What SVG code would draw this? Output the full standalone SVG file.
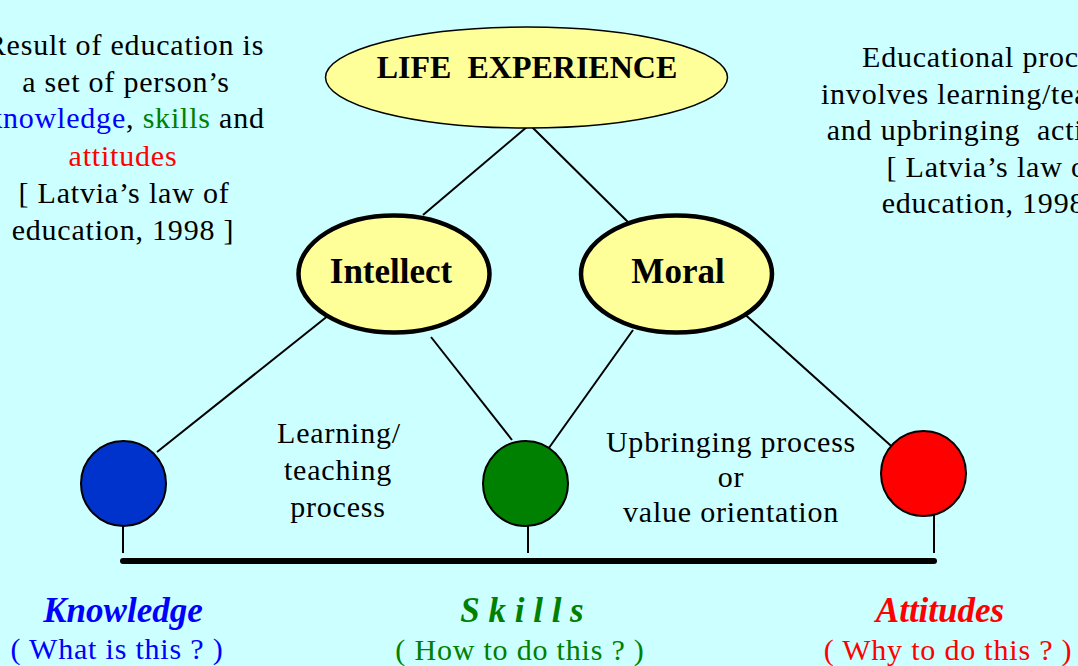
<svg xmlns="http://www.w3.org/2000/svg" width="1078" height="666" viewBox="0 0 1078 666">
<style>
.t{font-family:"Liberation Serif","Times New Roman",serif;font-size:30px;letter-spacing:0.8px;text-anchor:middle;fill:#000}
.b{font-family:"Liberation Serif","Times New Roman",serif;font-weight:bold;text-anchor:middle;fill:#000}
.bi{font-family:"Liberation Serif","Times New Roman",serif;font-weight:bold;font-style:italic;font-size:35px;text-anchor:middle}
.ln{stroke:#000;stroke-width:2;fill:none}
.oval{fill:#ffff99;stroke:#000}
.dot{stroke:#000;stroke-width:2}
.blue{fill:#0000ff}
.green{fill:#008000}
.red{fill:#ff0000}
</style>
<rect x="0" y="0" width="1078" height="666" fill="#ccffff"/>

<g id="connectors">
<line class="ln" x1="528" y1="126" x2="423" y2="215"/>
<line class="ln" x1="531" y1="126" x2="633" y2="227"/>
<line class="ln" x1="334" y1="311" x2="157" y2="452"/>
<line class="ln" x1="431" y1="337" x2="512" y2="440"/>
<line class="ln" x1="633" y1="330" x2="546" y2="452"/>
<line class="ln" x1="740" y1="310" x2="899" y2="453"/>
<line class="ln" x1="123" y1="516" x2="123" y2="553"/>
<line class="ln" x1="528" y1="516" x2="528" y2="553"/>
<line class="ln" x1="934" y1="515" x2="934" y2="553"/>
<line x1="123" y1="561" x2="934" y2="561" stroke="#000" stroke-width="6" stroke-linecap="round"/>
</g>

<g id="life-experience">
<ellipse class="oval" cx="526.5" cy="77.5" rx="201" ry="50.5" stroke-width="1.5"/>
<text class="b" x="527" y="78" font-size="32">LIFE&#160; EXPERIENCE</text>
</g>

<g id="intellect">
<ellipse class="oval" cx="394" cy="274" rx="95.5" ry="58.5" stroke-width="4.5"/>
<text class="b" x="391" y="283" font-size="35">Intellect</text>
</g>

<g id="moral">
<ellipse class="oval" cx="676.5" cy="274" rx="95.5" ry="58.5" stroke-width="4.5"/>
<text class="b" x="678" y="283" font-size="35">Moral</text>
</g>

<g id="knowledge">
<circle class="dot" cx="123.5" cy="483.5" r="42.5" fill="#0033cc"/>
<text class="bi blue" x="123" y="622">Knowledge</text>
<text class="t blue" x="117" y="659">( What is this ? )</text>
</g>

<g id="skills">
<circle class="dot" cx="525.5" cy="483.5" r="42.5" fill="#008000"/>
<text class="bi green" x="522" y="622">S k i l l s</text>
<text class="t green" x="520" y="660">( How to do this ? )</text>
</g>

<g id="attitudes">
<circle class="dot" cx="923.5" cy="473.5" r="42.5" fill="#ff0000"/>
<text class="bi red" x="940" y="622">Attitudes</text>
<text class="t red" x="948" y="660">( Why to do this ? )</text>
</g>

<g id="learning-teaching-label">
<text class="t" x="339" y="443">Learning/</text>
<text class="t" x="338" y="480">teaching</text>
<text class="t" x="338" y="517">process</text>
</g>

<g id="upbringing-label">
<text class="t" x="731" y="452">Upbringing process</text>
<text class="t" x="731" y="487">or</text>
<text class="t" x="731" y="522">value orientation</text>
</g>

<g id="result-note">
<text class="t" x="125" y="55">Result of education is</text>
<text class="t" x="126" y="92">a set of person’s</text>
<text class="t" x="126" y="128"><tspan class="blue">knowledge</tspan>, <tspan class="green">skills</tspan> and</text>
<text class="t red" x="123" y="166">attitudes</text>
<text class="t" x="124" y="203">[ Latvia’s law of</text>
<text class="t" x="123" y="240">education, 1998 ]</text>
</g>

<g id="process-note">
<text class="t" x="990" y="67">Educational process</text>
<text class="t" x="990" y="104">involves learning/teaching</text>
<text class="t" x="990" y="140">and upbringing&#160; activities</text>
<text class="t" x="992" y="177">[ Latvia’s law of</text>
<text class="t" x="993" y="213">education, 1998 ]</text>
</g>
</svg>
